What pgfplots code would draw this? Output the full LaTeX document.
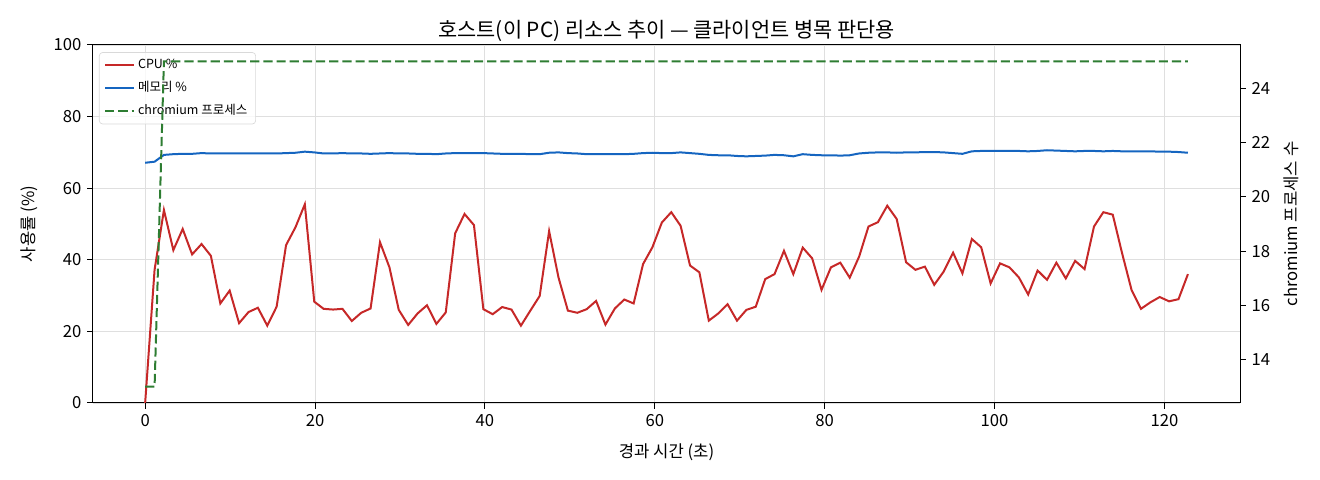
\documentclass[border=0pt]{standalone}
\usepackage{fontspec}
\setmainfont{Noto Sans CJK KR}
\usepackage{pgfplots}
\usepackage{pgfplotstable}
\pgfplotsset{compat=1.18}

\definecolor{cpuc}{HTML}{C62828}
\definecolor{memc}{HTML}{1565C0}
\definecolor{chrc}{HTML}{2E7D32}

% t = elapsed seconds, cpu/mem in %, chr = chromium process count
\pgfplotstableread{
t cpu mem chr
0 0.0 67.1 13
1.11 37.2 67.4 13
2.21 53.9 69.3 25
3.32 42.7 69.5 25
4.42 48.6 69.6 25
5.53 41.5 69.6 25
6.64 44.4 69.8 25
7.74 41.1 69.7 25
8.85 27.8 69.7 25
9.95 31.4 69.7 25
11.06 22.3 69.7 25
12.17 25.4 69.7 25
13.27 26.6 69.7 25
14.38 21.6 69.7 25
15.48 26.9 69.7 25
16.59 44.1 69.8 25
17.70 49.1 69.9 25
18.80 55.5 70.2 25
19.91 28.3 70.0 25
21.01 26.3 69.7 25
22.12 26.1 69.7 25
23.23 26.3 69.8 25
24.33 22.9 69.7 25
25.44 25.2 69.7 25
26.54 26.4 69.6 25
27.65 44.9 69.7 25
28.76 37.9 69.8 25
29.86 26.0 69.7 25
30.97 21.8 69.7 25
32.07 25.0 69.6 25
33.18 27.3 69.6 25
34.29 22.1 69.5 25
35.39 25.3 69.7 25
36.50 47.4 69.8 25
37.60 52.8 69.8 25
38.71 49.7 69.8 25
39.82 26.2 69.8 25
40.92 24.8 69.7 25
42.03 26.8 69.6 25
43.13 26.1 69.6 25
44.24 21.6 69.6 25
45.35 25.8 69.5 25
46.45 29.9 69.5 25
47.56 48.0 69.9 25
48.66 35.1 70.0 25
49.77 25.8 69.8 25
50.88 25.2 69.7 25
51.98 26.2 69.5 25
53.09 28.5 69.5 25
54.19 21.9 69.5 25
55.30 26.4 69.5 25
56.41 28.9 69.5 25
57.51 27.8 69.6 25
58.62 38.8 69.8 25
59.72 43.5 69.9 25
60.83 50.4 69.8 25
61.94 53.3 69.8 25
63.04 49.5 70.0 25
64.15 38.4 69.8 25
65.25 36.5 69.6 25
66.36 23.0 69.3 25
67.47 25.0 69.2 25
68.57 27.6 69.2 25
69.68 23.0 69.0 25
70.78 26.0 68.9 25
71.89 26.9 69.0 25
73.00 34.6 69.1 25
74.10 36.0 69.3 25
75.21 42.5 69.2 25
76.31 36.0 68.9 25
77.42 43.4 69.5 25
78.53 40.4 69.3 25
79.63 31.6 69.2 25
80.74 37.9 69.2 25
81.84 39.2 69.1 25
82.95 35.0 69.2 25
84.06 40.9 69.7 25
85.16 49.3 69.9 25
86.27 50.5 70.0 25
87.37 55.1 70.0 25
88.48 51.4 69.9 25
89.59 39.3 70.0 25
90.69 37.2 70.0 25
91.80 38.1 70.1 25
92.90 33.0 70.1 25
94.01 36.7 70.0 25
95.12 42.0 69.8 25
96.22 36.2 69.6 25
97.33 45.8 70.3 25
98.43 43.5 70.4 25
99.54 33.4 70.4 25
100.65 39.0 70.4 25
101.75 37.9 70.4 25
102.86 35.1 70.4 25
103.96 30.3 70.3 25
105.07 37.0 70.4 25
106.18 34.4 70.6 25
107.28 39.2 70.5 25
108.39 34.8 70.4 25
109.49 39.7 70.3 25
110.60 37.4 70.4 25
111.71 49.3 70.4 25
112.81 53.3 70.3 25
113.92 52.6 70.4 25
115.02 41.8 70.3 25
116.13 31.6 70.3 25
117.24 26.3 70.3 25
118.34 28.1 70.3 25
119.45 29.6 70.2 25
120.55 28.4 70.2 25
121.66 29.0 70.1 25
122.77 36.0 69.9 25
}\hostdata

\begin{document}
\begin{tikzpicture}
\path[use as bounding box] (-55.8pt,-46.2pt) rectangle (736.2pt,241.8pt);

\pgfplotsset{
  common/.style={
    scale only axis,
    width=688.2pt, height=214.8pt,
    xmin=-6.14, xmax=128.9,
    tick align=outside,
    major tick length=3.5pt,
    tick style={black, line width=0.6pt},
    axis line style={line width=0.6pt},
    ticklabel style={font=\fontsize{10}{12}\selectfont},
    label style={font=\fontsize{10}{12}\selectfont},
    /pgf/number format/assume math mode=true,
  },
}

\begin{axis}[
  common,
  ymin=0, ymax=100,
  xtick={0,20,...,120},
  ytick={0,20,...,100},
  xtick pos=bottom,
  ytick pos=left,
  xmajorgrids, ymajorgrids,
  grid style={gray!25, line width=0.5pt},
  xlabel={경과 시간 (초)},
  ylabel={사용률 (\%)},
  xlabel style={yshift=-3.4pt},
  ylabel style={yshift=2.5pt},
  title={호스트(이 PC) 리소스 추이 — 클라이언트 병목 판단용},
  title style={font=\fontsize{12.5}{14}\selectfont, yshift=-7.4pt},
  legend cell align=left,
  legend style={
    at={(0.0052,0.980)}, anchor=north west,
    font=\fontsize{7.5}{9.5}\selectfont,
    fill=white, fill opacity=0.8, text opacity=1,
    draw=gray!30, rounded corners=2pt,
    row sep=2.2pt,
  },
]
\addplot[cpuc, line width=1.2pt] table[x=t, y=cpu] {\hostdata};
\addlegendentry{CPU \%}
\addplot[memc, line width=1.2pt] table[x=t, y=mem] {\hostdata};
\addlegendentry{메모리 \%}
\addlegendimage{chrc, line width=1.2pt, dash pattern=on 5.5pt off 2.4pt}
\addlegendentry{chromium 프로세스}
\end{axis}

\begin{axis}[
  common,
  ymin=12.4, ymax=25.6,
  ytick={14,16,...,24},
  axis x line=none,
  axis y line*=right,
  ylabel={chromium 프로세스 수},
  ylabel style={yshift=-1pt},
]
\addplot[chrc, line width=1.2pt, dash pattern=on 5.5pt off 2.4pt] table[x=t, y=chr] {\hostdata};
\end{axis}
\end{tikzpicture}
\end{document}
